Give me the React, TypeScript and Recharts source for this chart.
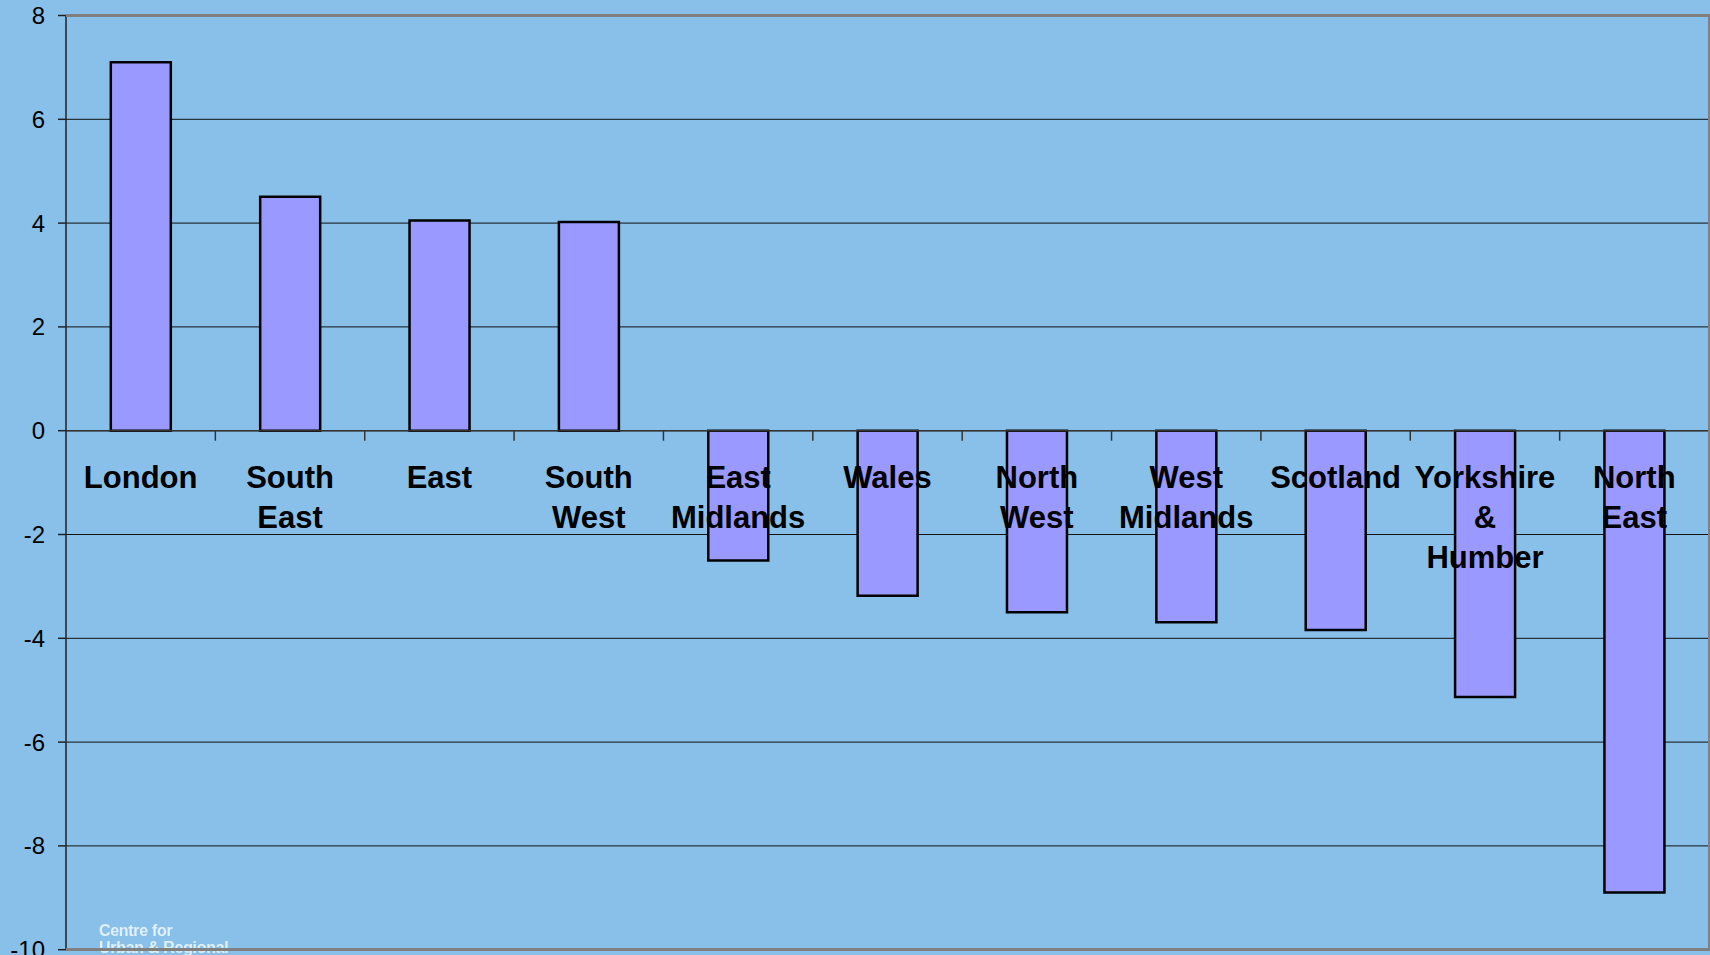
import { BarChart, Bar, XAxis, YAxis, CartesianGrid, ReferenceDot, ReferenceLine } from 'recharts';

// Regional change, percentage points
const regions = [
    'London', 'South East', 'East', 'South West', 'East Midlands', 'Wales',
    'North West', 'West Midlands', 'Scotland', 'Yorkshire & Humber', 'North East',
];
const labelLines = [
    ['London'], ['South', 'East'], ['East'], ['South', 'West'], ['East', 'Midlands'], ['Wales'],
    ['North', 'West'], ['West', 'Midlands'], ['Scotland'], ['Yorkshire', '&', 'Humber'], ['North', 'East'],
];
const values = [7.1, 4.51, 4.05, 4.02, -2.5, -3.18, -3.5, -3.69, -3.84, -5.13, -8.9];
const yTicks = [-10, -8, -6, -4, -2, 0, 2, 4, 6, 8];

const data = regions.map((region, i) => ({ region, value: values[i], lines: labelLines[i] }));

const WIDTH = 1710;
const HEIGHT = 955;
const AXIS_WIDTH = 66;
const MARGIN = { top: 15.5, right: 1, bottom: 5.3, left: 0 };
const BAND = (WIDTH - MARGIN.right - MARGIN.left - AXIS_WIDTH) / regions.length;
const BG = '#89c0ea';

// category name under the zero line, plus the tick at the right edge of its band
const CategoryLabel = ({ cx, cy, lines }: any) => (
    <g>
        <line x1={cx + BAND / 2} y1={cy} x2={cx + BAND / 2} y2={cy + 10} stroke="#333" strokeWidth={1.5} />
        <text
            x={cx}
            textAnchor="middle"
            fontFamily="'Liberation Sans', Arial, sans-serif"
            fontWeight="bold"
            fontSize={31}
            fill="#000"
        >
            {lines.map((line: string, i: number) => (
                <tspan key={i} x={cx} y={cy + 57.5 + i * 40}>{line}</tspan>
            ))}
        </text>
    </g>
);

export default function App() {
    return (
        <div style={{ position: 'fixed', left: 0, top: 0, width: WIDTH, height: HEIGHT, background: BG, overflow: 'hidden' }}>
            <BarChart width={WIDTH} height={HEIGHT} data={data} margin={MARGIN} barCategoryGap="30%">
                <CartesianGrid vertical={false} stroke="#111" strokeWidth={1} />
                <XAxis dataKey="region" hide />
                <YAxis
                    width={AXIS_WIDTH}
                    domain={[-10, 8]}
                    ticks={yTicks}
                    interval={0}
                    axisLine={{ stroke: '#222', strokeWidth: 1.5 }}
                    tickLine={{ stroke: '#222', strokeWidth: 1.5 }}
                    tickSize={8}
                    tickMargin={13}
                    tick={{ fill: '#000', fontSize: 24, fontFamily: "'Liberation Sans', Arial, sans-serif" }}
                />
                <ReferenceLine y={0} stroke="#333" strokeWidth={1.5} />
                <Bar dataKey="value" fill="#9999ff" stroke="#000" strokeWidth={2.5} isAnimationActive={false} />
                {data.map((d) => (
                    <ReferenceDot
                        key={d.region}
                        x={d.region}
                        y={0}
                        r={1}
                        shape={(props: any) => <CategoryLabel {...props} lines={d.lines} />}
                    />
                ))}
            </BarChart>
            {/* logo text, partly hidden below the plot frame */}
            <div
                style={{
                    position: 'absolute', left: 99, top: 922, color: 'rgba(240,248,255,0.85)',
                    fontFamily: "'Liberation Sans', Arial, sans-serif", fontWeight: 'bold', fontSize: 16,
                    lineHeight: '17px', letterSpacing: -0.3, filter: 'blur(0.4px)',
                }}
            >
                <div>Centre for</div>
                <div>Urban &amp; Regional</div>
            </div>
            <div
                style={{
                    position: 'absolute', left: AXIS_WIDTH, top: 14, width: WIDTH - AXIS_WIDTH + 1, height: 937,
                    borderTop: '3px solid #808080', borderRight: '3px solid #808080', borderBottom: '3px solid #808080',
                    boxSizing: 'border-box', pointerEvents: 'none',
                }}
            />
        </div>
    );
}
